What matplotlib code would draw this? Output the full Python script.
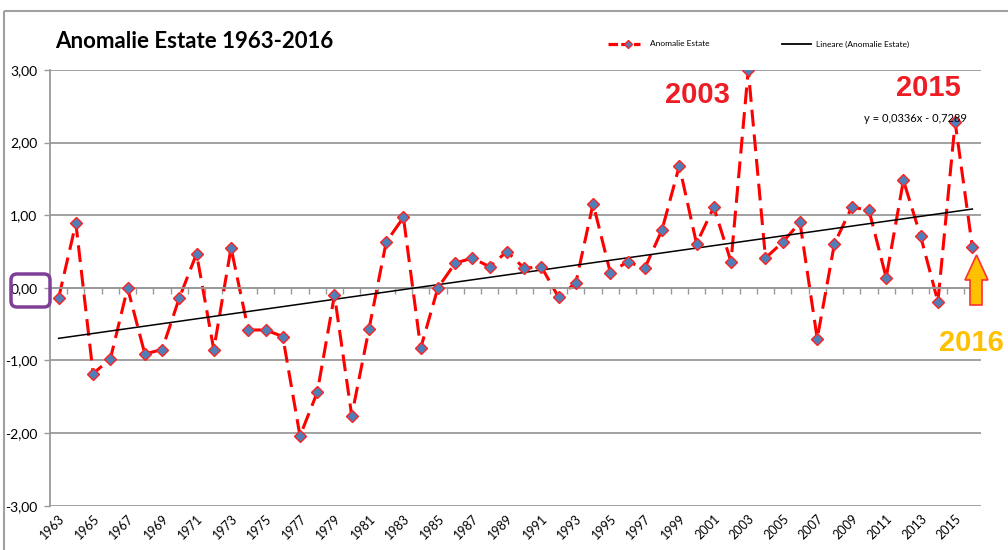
import numpy as np
import matplotlib
matplotlib.use("Agg")
import matplotlib.pyplot as plt
from matplotlib.patches import Polygon, FancyBboxPatch, Rectangle
from matplotlib.transforms import IdentityTransform
from matplotlib.lines import Line2D

# summer anomaly per year
years = list(range(1963, 2017))
anomalies = [
    -0.14, 0.89, -1.18, -0.98, 0.00, -0.91, -0.85, -0.14, 0.47, -0.85,  # 1963-1972
    0.55, -0.58, -0.58, -0.67, -2.04, -1.44, -0.10, -1.76, -0.57, 0.63,  # 1973-1982
    0.97, -0.83, 0.00, 0.34, 0.41, 0.29, 0.50, 0.27, 0.29, -0.13,  # 1983-1992
    0.07, 1.16, 0.21, 0.36, 0.27, 0.80, 1.68, 0.61, 1.11, 0.36,  # 1993-2002
    3.00, 0.41, 0.63, 0.90, -0.70, 0.61, 1.11, 1.07, 0.14, 1.48,  # 2003-2012
    0.71, -0.19, 2.28, 0.56,  # 2013-2016
]
# trendline from the equation shown on the chart
trend_slope = 0.0336
trend_intercept = -0.7289
y_ticks = [3, 2, 1, 0, -1, -2, -3]

W, H = 1008, 550
fig = plt.figure(figsize=(W / 100, H / 100), dpi=100)
narrow = ["Lato", "DejaVu Sans"]


def fx(x):
    return x / W


def fy(y):
    return 1 - y / H


# chart area border
fig.patches.append(Rectangle((4, H - 11), W, -H, transform=IdentityTransform(),
                             fill=False, edgecolor="#a0a0a0", lw=1.5))

ax = fig.add_axes([fx(50), fy(505.7), (981 - 50) / W, (505.7 - 70) / H])
xs = np.arange(len(years))

ax.plot(xs, anomalies, color="#ff0000", lw=2.2, dashes=(5.5, 2.6), zorder=2)
tx = np.array([xs[0], xs[-1]])
ax.plot(tx, trend_slope * (tx + 1) + trend_intercept, color="black", lw=1.1, zorder=3)
ax.plot(xs, anomalies, ls="none", marker="D", ms=5.8, mfc="#4f7fb8",
        mec="#ff2020", mew=1.0, zorder=4)

ax.set_xlim(-0.5, len(years) - 0.5)
ax.set_ylim(-3, 3)
ax.set_yticks(y_ticks)
ax.set_yticklabels([f"{v:.2f}".replace(".", ",") for v in y_ticks],
                   family=narrow, fontsize=10)
ax.yaxis.grid(True, color="#9a9a9a", lw=1.3)
ax.set_axisbelow(True)
ax.tick_params(axis="y", length=4, width=1, color="#9a9a9a", pad=5)

for s in ["top", "right"]:
    ax.spines[s].set_visible(False)
ax.spines["left"].set_color("#9a9a9a")
ax.spines["left"].set_linewidth(1.3)
ax.spines["bottom"].set_position(("data", 0))
ax.spines["bottom"].set_color("#9a9a9a")
ax.spines["bottom"].set_linewidth(1.3)
ax.set_xticks(np.arange(-0.5, len(years), 1))
ax.set_xticklabels([])
ax.tick_params(axis="x", length=4, width=1, color="#9a9a9a", direction="out")

sec = ax.secondary_xaxis(0.0)
sec.set_xticks(xs[::2])
sec.set_xticklabels([str(y) for y in years[::2]], rotation=45, ha="right",
                    va="top", rotation_mode="anchor", family=narrow, fontsize=9)
sec.tick_params(length=0, pad=5)
sec.spines["bottom"].set_visible(False)

# title and legend
fig.text(fx(55), fy(42), "Anomalie Estate 1963-2016", family=narrow,
         fontsize=16, fontweight="bold", va="center", ha="left")
fig.add_artist(Line2D([fx(608), fx(640)], [fy(44), fy(44)], color="#ff0000",
                      lw=2.3, dashes=(3, 1)))
fig.add_artist(Line2D([fx(628)], [fy(44)], marker="D", ms=4, mfc="#4f7fb8",
                      mec="#ff2020", ls="none"))
fig.text(fx(650), fy(44), "Anomalie Estate", family=narrow, fontsize=6, va="center")
fig.add_artist(Line2D([fx(782), fx(811)], [fy(44), fy(44)], color="black", lw=1.3))
fig.text(fx(816), fy(44), "Lineare (Anomalie Estate)", family=narrow,
         fontsize=6, va="center")

# annotations
fig.text(fx(697), fy(95), "2003", color="#ee1c25", fontsize=21, fontweight="bold",
         family="Liberation Sans", ha="center", va="center")
fig.text(fx(928), fy(88), "2015", color="#ee1c25", fontsize=21, fontweight="bold",
         family="Liberation Sans", ha="center", va="center")
fig.text(fx(971), fy(343), "2016", color="#ffc000", fontsize=21, fontweight="bold",
         family="Liberation Sans", ha="center", va="center")
fig.text(fx(915), fy(119), "y = 0,0336x - 0,7289", family=narrow, fontsize=8,
         ha="center", va="center")

arrow = [(970, 305), (982, 305), (982, 280), (988, 280), (976.5, 255),
         (965, 280), (970, 280)]
fig.patches.append(Polygon([(x, H - y) for x, y in arrow], closed=True,
                           transform=IdentityTransform(), facecolor="#ffc000",
                           edgecolor="#ff3030", lw=1.2, zorder=5))
fig.patches.append(FancyBboxPatch((11, H - 307), 39, 33,
                                  boxstyle="round,pad=0,rounding_size=6",
                                  transform=IdentityTransform(), fill=False,
                                  edgecolor="#7f3f98", lw=2.5, zorder=5))

fig.savefig("out.png", dpi=100)
